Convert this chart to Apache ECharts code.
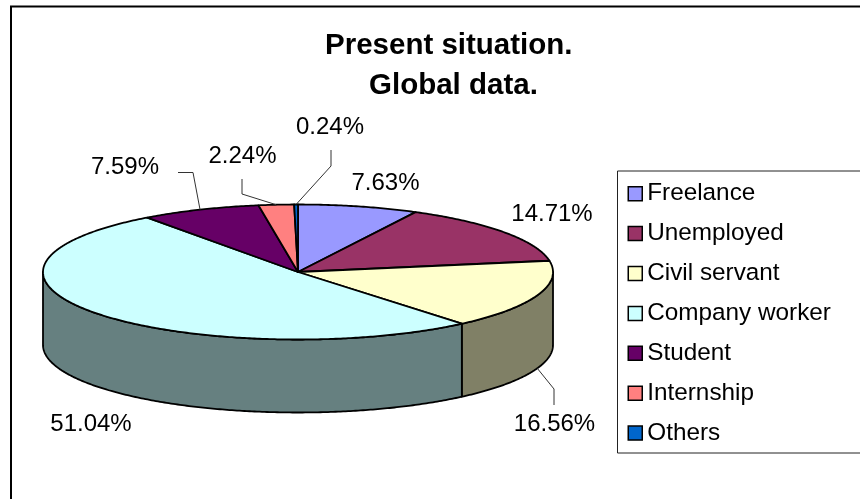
<!DOCTYPE html>
<html>
<head>
<meta charset="utf-8">
<style>html,body{margin:0;padding:0;background:#fff}#chart{width:860px;height:499px}</style>
<script src="https://cdn.jsdelivr.net/npm/echarts@6/dist/echarts.min.js"></script>
</head>
<body>
<div id="chart"></div>
<script>
// Survey results
const categories = ['Freelance', 'Unemployed', 'Civil servant', 'Company worker', 'Student', 'Internship', 'Others'];
const shares = [7.63, 14.71, 16.56, 51.04, 7.59, 2.24, 0.24];
const sliceColors = ['#9999FF', '#993366', '#FFFFCC', '#CCFFFF', '#660066', '#FF8080', '#0066CC'];
const wallColors = ['#4D4D80', '#4D1A33', '#808066', '#668080', '#330033', '#804040', '#003366'];

// Tilted disc geometry
const disc = { cx: 298, cy: 272, rx: 255, ry: 67.5, depth: 73 };
const FONT = '"Liberation Sans", Arial, sans-serif';

// Where each value label sits; leader gives the bend points toward the slice
const labelLayout = [
  { x: 385.5, y: 183.5 },
  { x: 552, y: 214.5 },
  { x: 554.5, y: 424, leader: [[554, 405], [554, 389]], onWall: true },
  { x: 91, y: 424 },
  { x: 125, y: 167, leader: [[178, 172.5], [193, 172.5]] },
  { x: 242.5, y: 156.5, leader: [[242, 179], [242, 194]] },
  { x: 330, y: 127.5, leader: [[331, 150], [331, 166]] }
];

const total = shares.reduce((a, b) => a + b, 0);
const offsets = [];
shares.reduce((sum, v, i) => { offsets[i] = sum; return sum + v; }, 0);

function rimPoint(angle, drop) {
  return [disc.cx + disc.rx * Math.sin(angle), disc.cy - disc.ry * Math.cos(angle) + (drop || 0)];
}
function rimArc(a0, a1, drop) {
  const steps = Math.max(2, Math.ceil(Math.abs(a1 - a0) / 0.01));
  const pts = [];
  for (let k = 0; k <= steps; k++) pts.push(rimPoint(a0 + (a1 - a0) * k / steps, drop));
  return pts;
}

function renderSlice(params, api) {
  const i = params.seriesIndex;
  const value = api.value(0);
  const a0 = api.value(1) / total * Math.PI * 2;
  const a1 = a0 + value / total * Math.PI * 2;
  const children = [];

  // Outer wall: only the part of the rim on the near half of the disc shows
  const w0 = Math.max(a0, Math.PI / 2);
  const w1 = Math.min(a1, Math.PI * 1.5);
  if (w1 > w0) {
    const near = rimArc(w0, w1, 0);
    const far = rimArc(w1, w0, disc.depth);
    children.push({
      type: 'polygon',
      shape: { points: near.concat(far) },
      style: { fill: wallColors[i], stroke: '#000', lineWidth: 1.8, lineJoin: 'round' }
    });
  }

  // Top face
  children.push({
    type: 'polygon',
    z2: 2,
    shape: { points: [[disc.cx, disc.cy]].concat(rimArc(a0, a1, 0)) },
    style: { fill: sliceColors[i], stroke: '#000', lineWidth: 1.8, lineJoin: 'round' }
  });

  // Value label and optional leader
  const place = labelLayout[i];
  const mid = (a0 + a1) / 2;
  if (place.leader) {
    const anchor = rimPoint(mid, place.onWall ? disc.depth : 0);
    children.push({
      type: 'polyline',
      z2: 3,
      shape: { points: place.leader.concat([anchor]) },
      style: { fill: null, stroke: '#333', lineWidth: 1 }
    });
  }
  children.push({
    type: 'text',
    z2: 4,
    x: place.x,
    y: place.y,
    style: {
      text: value.toFixed(2) + '%',
      font: '24px ' + FONT,
      fill: '#000',
      align: 'center',
      verticalAlign: 'middle'
    }
  });
  return { type: 'group', children };
}

const chart = echarts.init(document.getElementById('chart'), null, { renderer: 'canvas' });
chart.setOption({
  animation: false,
  backgroundColor: '#fff',
  title: [
    { text: 'Present situation.', left: 325, top: 31, padding: 0, textStyle: { fontFamily: FONT, fontSize: 29.5, fontWeight: 'bold', color: '#000' } },
    { text: 'Global data.', left: 369, top: 71, padding: 0, textStyle: { fontFamily: FONT, fontSize: 29.5, fontWeight: 'bold', color: '#000' } }
  ],
  legend: {
    left: 627.5,
    top: 181.7,
    orient: 'vertical',
    selectedMode: false,
    icon: 'rect',
    itemWidth: 14,
    itemHeight: 14,
    itemGap: 15.9,
    padding: 0,
    data: categories,
    itemStyle: { borderColor: '#000', borderWidth: 1.5 },
    textStyle: { fontFamily: FONT, fontSize: 24.3, color: '#000', padding: [0, 0, 9, 0] }
  },
  graphic: [
    { type: 'polyline', silent: true, shape: { points: [[11, 505], [11, 6.5], [865, 6.5]] }, style: { fill: null, stroke: '#000', lineWidth: 2 } },
    { type: 'rect', silent: true, shape: { x: 617.5, y: 171, width: 260, height: 282 }, style: { fill: null, stroke: '#222', lineWidth: 1 } }
  ],
  series: categories.map((name, i) => ({
    type: 'custom',
    name,
    coordinateSystem: 'none',
    renderItem: renderSlice,
    itemStyle: { color: sliceColors[i] },
    data: [[shares[i], offsets[i]]]
  }))
});
</script>
</body>
</html>
